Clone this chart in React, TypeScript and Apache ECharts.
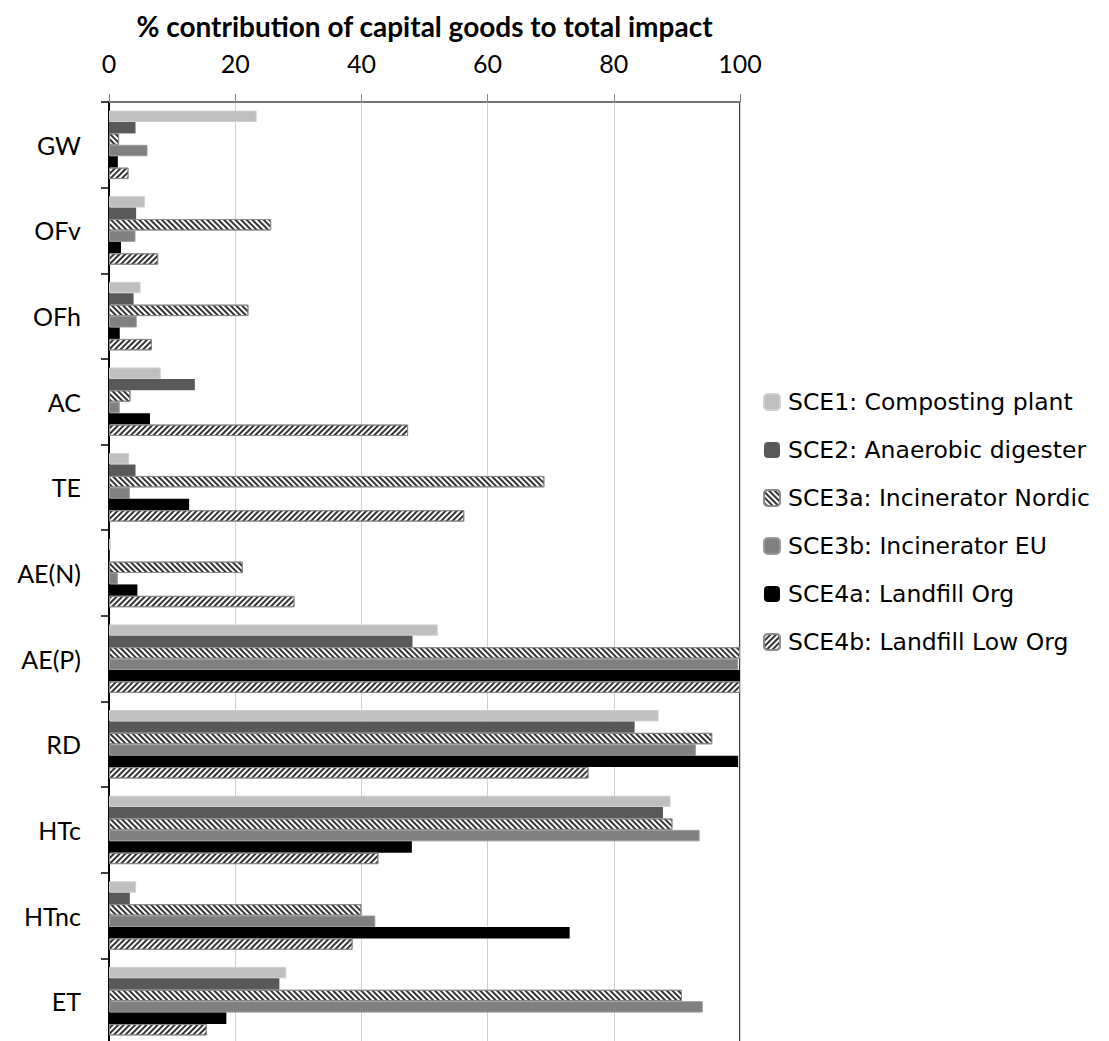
import React, { useEffect, useRef } from "react";
import * as echarts from "echarts";

const categories = ["GW", "OFv", "OFh", "AC", "TE", "AE(N)", "AE(P)", "RD", "HTc", "HTnc", "ET"];
const seriesNames = [
  "SCE1: Composting plant",
  "SCE2: Anaerobic digester",
  "SCE3a: Incinerator Nordic",
  "SCE3b: Incinerator EU",
  "SCE4a: Landfill Org",
  "SCE4b: Landfill Low Org",
];
const sce1 = [23.4, 5.7, 5.0, 8.2, 3.2, 0.3, 52.1, 87.1, 89.0, 4.3, 28.1];
const sce2 = [4.2, 4.3, 3.9, 13.6, 4.2, 0.1, 48.1, 83.3, 87.8, 3.3, 27.0];
const sce3a = [1.6, 25.7, 22.1, 3.4, 69.0, 21.2, 100, 95.6, 89.3, 40.0, 90.8];
const sce3b = [6.1, 4.2, 4.4, 1.7, 3.3, 1.4, 99.7, 93.0, 93.6, 42.2, 94.1];
const sce4a = [1.4, 1.9, 1.7, 6.5, 12.7, 4.5, 100, 99.7, 48.0, 73.0, 18.6];
const sce4b = [3.1, 7.8, 6.8, 47.4, 56.3, 29.4, 100, 76.0, 42.7, 38.6, 15.5];
const xTicks = [0, 20, 40, 60, 80, 100];
const axisTitle = "% contribution of capital goods to total impact";

const FONT = "Lato";
const LEGEND_FONT = "DejaVu Sans";

export default function App() {
  const ref = useRef<HTMLDivElement>(null);
  useEffect(() => {
    if (!ref.current) return;
    const chart = echarts.init(ref.current, null, { renderer: "svg" });
    const values = [sce1, sce2, sce3a, sce3b, sce4a, sce4b];
    const stripe = (rot: number) => ({
      symbol: "rect",
      symbolSize: 1,
      dashArrayX: [1, 0],
      dashArrayY: [2, 1.8],
      rotation: rot,
      color: "#333333",
    });
    const styles: any[] = [
      { color: "#bfbfbf", borderColor: "#d0d0d0", borderWidth: 1 },
      { color: "#595959" },
      { color: "#ffffff", borderColor: "#8c8c8c", borderWidth: 1, decal: stripe(Math.PI / 4) },
      { color: "#808080", borderColor: "#999999", borderWidth: 1 },
      { color: "#000000" },
      { color: "#ffffff", borderColor: "#8c8c8c", borderWidth: 1, decal: stripe(-Math.PI / 4) },
    ];
    chart.setOption({
      animation: false,
      textStyle: { fontFamily: FONT },
      grid: {
        left: 101,
        top: 94,
        width: 631,
        height: 942,
        containLabel: false,
        outerBoundsMode: "none",
        show: true,
        borderColor: "#000",
        borderWidth: 1.5,
        backgroundColor: "transparent",
      },
      legend: {
        orient: "vertical",
        left: 755,
        top: 382,
        padding: 0,
        itemWidth: 16,
        itemHeight: 16,
        itemGap: 24,
        textStyle: { fontFamily: LEGEND_FONT, fontSize: 23.5, lineHeight: 24, color: "#000", padding: [0, 0, 0, 3] },
        data: seriesNames,
      },
      xAxis: {
        type: "value",
        position: "top",
        min: xTicks[0],
        max: xTicks[xTicks.length - 1],
        interval: 20,
        name: axisTitle,
        nameLocation: "middle",
        nameGap: 62,
        nameTextStyle: { fontFamily: FONT, fontSize: 28, fontWeight: "bold", color: "#000" },
        axisLine: { show: true, lineStyle: { color: "#868686", width: 1.5 } },
        axisTick: { show: true, length: 8, lineStyle: { color: "#868686" } },
        axisLabel: { fontFamily: FONT, fontSize: 25, color: "#000", margin: 27 },
        splitLine: { show: true, lineStyle: { color: "#d0d0d0", width: 1 } },
      },
      yAxis: {
        type: "category",
        inverse: true,
        data: categories,
        axisLine: { show: true, lineStyle: { color: "#000", width: 2 } },
        axisTick: { show: true, length: 8, lineStyle: { color: "#000", width: 1.5 } },
        axisLabel: { fontFamily: FONT, fontSize: 25, color: "#000", margin: 28 },
        splitLine: { show: false },
      },
      series: seriesNames.map((n, i) => ({
        name: n,
        type: "bar",
        data: values[i],
        barGap: "0%",
        barCategoryGap: "20%",
        itemStyle: styles[i],
      })),
    });
    return () => chart.dispose();
  }, []);
  return <div ref={ref} style={{ width: 1093, height: 1033 }} />;
}
